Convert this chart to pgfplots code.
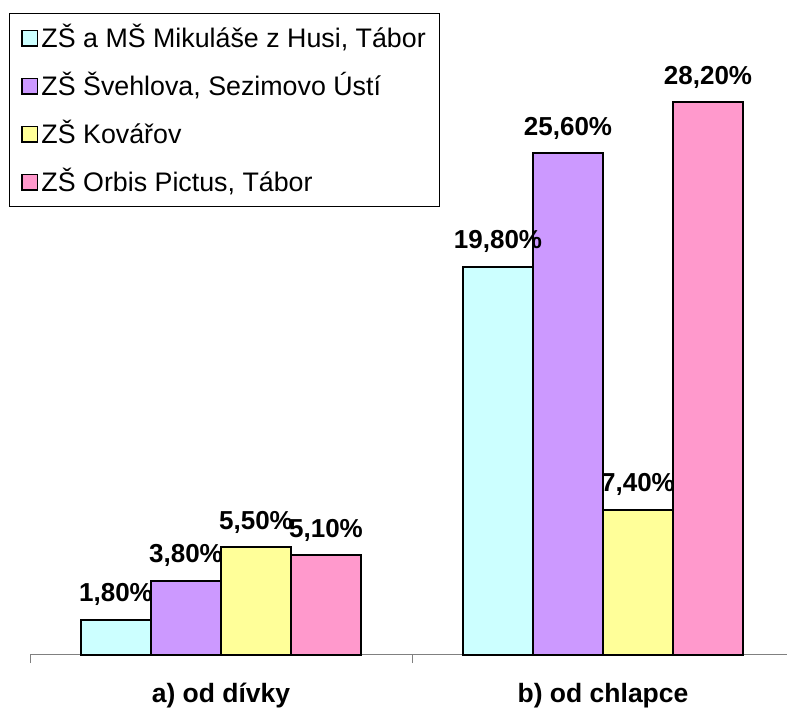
\documentclass[border=0pt]{standalone}
\usepackage{fontspec}
\setmainfont{Liberation Sans}
\usepackage{pgfplots}
\pgfplotsset{compat=1.18}
\definecolor{cA}{HTML}{CCFFFF}
\definecolor{cB}{HTML}{CC99FF}
\definecolor{cC}{HTML}{FFFF99}
\definecolor{cD}{HTML}{FF99CC}
\definecolor{axgray}{HTML}{808080}
\pgfplotsset{mylegend/.style={legend image code/.code={\draw[##1,line width=1.5pt] (0pt,-7.75pt) rectangle (15.5pt,7.75pt);}}}
\begin{document}
\begin{tikzpicture}
\useasboundingbox (0,0) rectangle (787pt,709pt);
\clip (0,0) rectangle (787pt,709pt);
\begin{axis}[
  at={(30pt,54pt)}, anchor=south west,
  scale only axis, width=764pt, height=655pt,
  clip=false,
  ybar=0pt, bar width=70pt,
  xmin=-0.5, xmax=1.5, ymin=0, ymax=33.42,
  axis y line=none,
  axis x line*=bottom,
  x axis line style={draw=axgray, line width=1pt, -},
  xtick={0,1}, xticklabels={a) od dívky, b) od chlapce},
  major tick length=0pt,
  major x tick style={draw=none},
  minor xtick={-0.5,0.5,1.5},
  minor x tick style={draw=axgray, line width=1pt},
  minor tick length=8pt,
  tick align=outside,
  xticklabel style={font=\fontsize{26.5}{30}\selectfont\bfseries, anchor=base, yshift=-48pt, inner sep=0pt},
  nodes near coords={\pgfmathprintnumber[fixed,fixed zerofill,precision=2,use comma,assume math mode=true]{\pgfplotspointmeta}\%},
  nodes near coords style={font=\fontsize{26}{30}\selectfont\bfseries, anchor=base, inner sep=0pt, yshift=18pt, text=black},
  legend cell align=left,
  legend style={at={(-0.0275,0.980)}, anchor=north west, draw=black, line width=1pt,
    font=\fontsize{26.8}{30}\selectfont, inner xsep=12pt, inner ysep=12pt, row sep=23pt,
    nodes={text height=22pt, text depth=3pt, inner ysep=0pt, inner xsep=2pt},
    /tikz/every odd column/.append style={column sep=1pt}},
]
\addplot[fill=cA, draw=black, line width=2pt, mylegend] coordinates {(0,1.8) (1,19.8)};
\addplot[fill=cB, draw=black, line width=2pt, mylegend] coordinates {(0,3.8) (1,25.6)};
\addplot[fill=cC, draw=black, line width=2pt, mylegend] coordinates {(0,5.5) (1,7.4)};
\addplot[fill=cD, draw=black, line width=2pt, mylegend] coordinates {(0,5.1) (1,28.2)};
\legend{{ZŠ a MŠ Mikuláše z Husi, Tábor}, {ZŠ Švehlova, Sezimovo Ústí}, {ZŠ Kovářov}, {ZŠ Orbis Pictus, Tábor}}
\end{axis}
\end{tikzpicture}
\end{document}
